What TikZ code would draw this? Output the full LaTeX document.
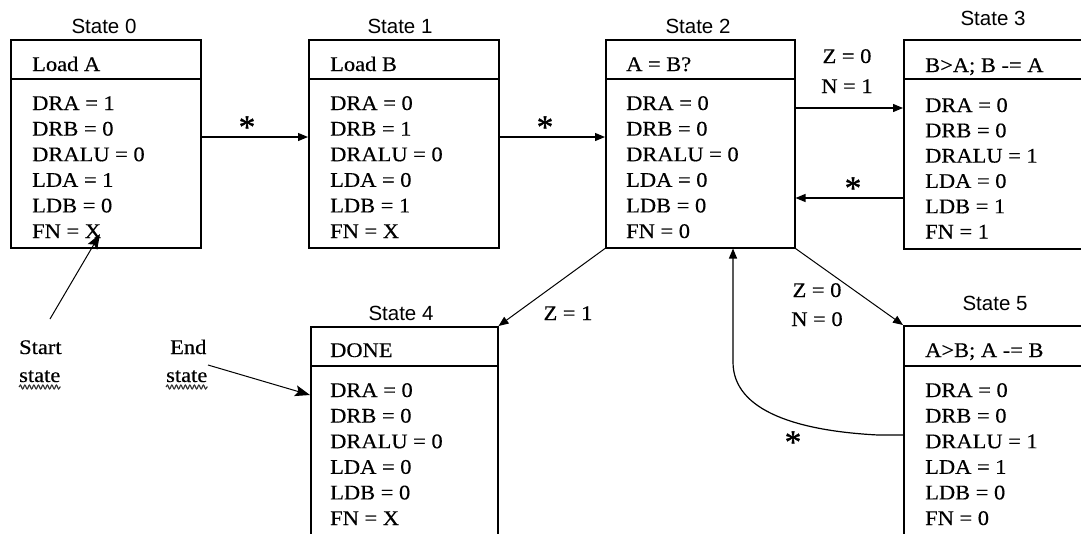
\documentclass[tikz,border=0pt]{standalone}
\usepackage{fontspec}
\setmainfont{Liberation Serif}[FakeStretch=1.08,FakeBold=0.35]
\newfontfamily\lblfont{Liberation Sans}
\newfontfamily\starfont{Liberation Serif}[FakeBold=1.2]
\usetikzlibrary{arrows.meta,decorations.pathmorphing}
\begin{document}
\begin{tikzpicture}[x=1pt,y=-1pt,
  statebox/.style={draw, line width=1.5pt, inner sep=0pt, anchor=north west},
  divider/.style={line width=1.5pt},
  txt/.style={font=\fontsize{20.8}{20.8}\selectfont, inner sep=0pt, anchor=base west},
  ctxt/.style={font=\fontsize{20.8}{20.8}\selectfont, inner sep=0pt, anchor=base},
  lbl/.style={font=\lblfont\fontsize{20.5}{20.5}\selectfont, inner sep=0pt, anchor=base},
  star/.style={font=\starfont\fontsize{33}{33}\selectfont, inner sep=0pt, anchor=base},
  conn/.style={line width=1.2pt, -{Triangle[length=10pt,width=8pt]}},
  dconn/.style={line width=1pt, -{Triangle[length=10pt,width=8pt]}},
  bigconn/.style={line width=1pt, -{Stealth[length=15pt,width=11pt,inset=3pt]}},
  squig/.style={decorate, decoration={snake, amplitude=2pt, segment length=4.5pt}, line width=1.1pt, black!80}
]
\useasboundingbox (0,0) rectangle (1081,533);
\clip (0,0) rectangle (1081,533);

% ---- boxes ----
\node[statebox, minimum width=190pt, minimum height=208pt] (s0) at (10,39) {};
\node[statebox, minimum width=190pt, minimum height=208pt] (s1) at (308,39) {};
\node[statebox, minimum width=189pt, minimum height=208pt] (s2) at (605,39) {};
\node[statebox, minimum width=182pt, minimum height=209pt] (s3) at (903,39) {};
\node[statebox, minimum width=187pt, minimum height=230pt] (s4) at (310,326) {};
\node[statebox, minimum width=182pt, minimum height=230pt] (s5) at (903,325) {};

\foreach \b in {s0,s1,s2,s3,s4}
  \draw[divider] ([yshift=-40pt]\b.north west) -- ([yshift=-40pt]\b.north east);
\draw[divider] ([yshift=-41pt]s5.north west) -- ([yshift=-41pt]s5.north east);

% ---- state labels ----
\node[lbl] (l0) at (104,33) {State 0};
\node[lbl] (l1) at (400,33) {State 1};
\node[lbl] (l2) at (698,33) {State 2};
\node[lbl] (l3) at (993,25) {State 3};
\node[lbl] (l4) at (401,320) {State 4};
\node[lbl] (l5) at (995,310) {State 5};

% ---- headers ----
\node[txt] (h0) at (32,71) {Load A};
\node[txt] (h1) at (330,71) {Load B};
\node[txt] (h2) at (626,71) {A = B?};
\node[txt] (h3) at (925,72) {B>A; B -= A};
\node[txt] (h4) at (330,357) {DONE};
\node[txt] (h5) at (925,357) {A>B; A -= B};

% ---- bodies ----
\foreach \t [count=\i] in {DRA = 1, DRB = 0, DRALU = 0, LDA = 1, LDB = 0, FN = X}
  \node[txt] (b0-\i) at (32,{110+25.6*(\i-1)}) {\t};
\foreach \t [count=\i] in {DRA = 0, DRB = 1, DRALU = 0, LDA = 0, LDB = 1, FN = X}
  \node[txt] (b1-\i) at (330,{110+25.6*(\i-1)}) {\t};
\foreach \t [count=\i] in {DRA = 0, DRB = 0, DRALU = 0, LDA = 0, LDB = 0, FN = 0}
  \node[txt] (b2-\i) at (626,{110+25.6*(\i-1)}) {\t};
\foreach \t [count=\i] in {DRA = 0, DRB = 0, DRALU = 1, LDA = 0, LDB = 1, FN = 1}
  \node[txt] (b3-\i) at (925,{112+25.3*(\i-1)}) {\t};
\foreach \t [count=\i] in {DRA = 0, DRB = 0, DRALU = 0, LDA = 0, LDB = 0, FN = X}
  \node[txt] (b4-\i) at (330,{397+25.6*(\i-1)}) {\t};
\foreach \t [count=\i] in {DRA = 0, DRB = 0, DRALU = 1, LDA = 1, LDB = 0, FN = 0}
  \node[txt] (b5-\i) at (925,{397+25.6*(\i-1)}) {\t};

% ---- connectors ----
\draw[conn] ([yshift=-98pt]s0.north east) -- ([yshift=-98pt]s1.north west);
\draw[conn] ([yshift=-98pt]s1.north east) -- ([yshift=-98pt]s2.north west);
\draw[conn] ([yshift=-69pt]s2.north east) -- ([yshift=-69pt]s3.north west);
\draw[conn] ([yshift=-159pt]s3.north west) -- ([yshift=-159pt]s2.north east);
\draw[dconn] (s2.south west) -- (s4.north east);
\draw[dconn] (s2.south east) -- (s5.north west);
\draw[conn] ([yshift=-110pt]s5.north west) -- (878,435)
  .. controls (800,431) and (733,412) .. (733,362) -- ([xshift=128pt]s2.south west);

% ---- connector labels ----
\node[star] (st01) at (247,138) {*};
\node[star] (st12) at (545,138) {*};
\node[star] (st32) at (853,199) {*};
\node[star] (st52) at (793,453) {*};
\node[ctxt] (z23) at (847,63) {Z = 0};
\node[ctxt] (n23) at (847,93) {N = 1};
\node[ctxt] (z24) at (568,320) {Z = 1};
\node[ctxt] (z25) at (817,297) {Z = 0};
\node[ctxt] (n25) at (817,326) {N = 0};

% ---- start / end annotations ----
\node[txt] (start1) at (19,354) {Start};
\node[txt] (start2) at (19,382) {state};
\node[txt] (end1) at (170,354) {End};
\node[txt] (end2) at (166,382) {state};
\draw[squig] ([yshift=-5pt]start2.base west) -- ([yshift=-5pt]start2.base east);
\draw[squig] ([yshift=-5pt]end2.base west) -- ([yshift=-5pt]end2.base east);

\coordinate (startfree) at (50,319);
\coordinate (fnx) at (100,234);
\coordinate (endfree) at (208,365);
\draw[bigconn] (startfree) -- (fnx);
\draw[bigconn] (endfree) -- ([yshift=-69pt]s4.north west);
\end{tikzpicture}
\end{document}
